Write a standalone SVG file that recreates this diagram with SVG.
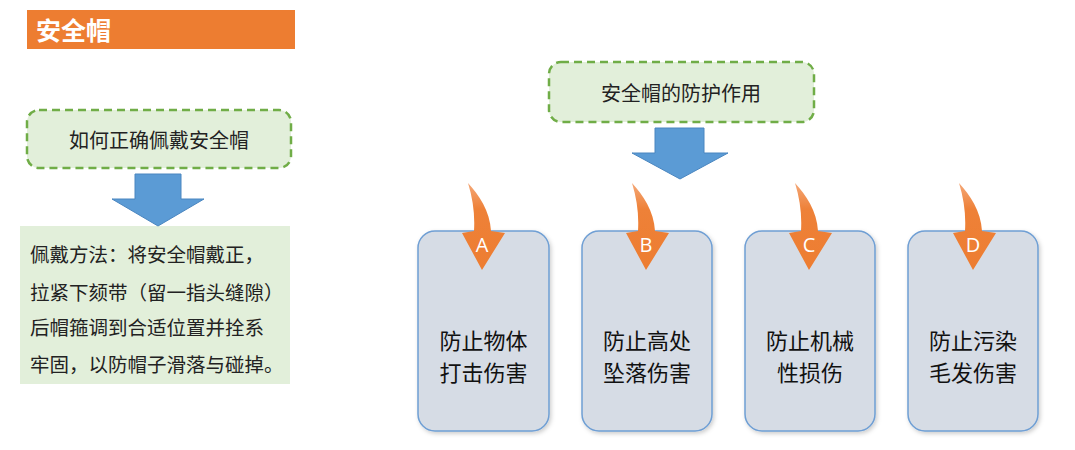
<svg xmlns="http://www.w3.org/2000/svg" width="1075" height="450" viewBox="0 0 1075 450">
<defs>
<style>
.cjk{font-family:"Noto Sans CJK SC","Noto Sans",sans-serif;}
.dash{fill:#E2EFDA;stroke:#70AD47;stroke-width:2.5;stroke-dasharray:8 5;}
.blk{fill:#5B9BD5;stroke:#4A86C0;stroke-width:1;}
.card{fill:#D6DCE5;stroke:#6F9FD4;stroke-width:1.5;}
.lbl{font-size:22px;fill:#111;text-anchor:middle;}
.cur{fill:url(#og);}
.let{font-family:"Open Sans","Liberation Sans",sans-serif;font-size:20px;fill:#fff;text-anchor:middle;}
</style>
<linearGradient id="og" x1="0" y1="0" x2="0" y2="1">
<stop offset="0" stop-color="#F4A878"/>
<stop offset="0.3" stop-color="#EE8138"/>
<stop offset="1" stop-color="#ED7D31"/>
</linearGradient>
<filter id="sh" x="-10%" y="-10%" width="130%" height="130%">
<feDropShadow dx="1.5" dy="2" stdDeviation="2" flood-color="#000" flood-opacity="0.2"/>
</filter>
<path id="carrow" d="M0,0 C11,12 22,28 23,48 L37,50 L14,87 L-6,50 L6,48 C7,32 5,16 0,0 Z"/>
</defs>

<g id="title">
<rect x="27" y="10" width="268" height="39" fill="#ED7D31"/>
<text class="cjk" x="36" y="39.5" font-size="25" font-weight="bold" fill="#fff">安全帽</text>
</g>

<g id="howto">
<rect class="dash" x="27" y="110" width="264" height="58" rx="12"/>
<text class="cjk" x="159" y="147.5" font-size="20" fill="#222" text-anchor="middle">如何正确佩戴安全帽</text>
</g>

<g id="method">
<rect x="20" y="226" width="270" height="158" fill="#E2EFDA"/>
<text class="cjk" x="30" y="262" font-size="19.5" fill="#222">佩戴方法：将安全帽戴正，</text>
<text class="cjk" x="30" y="300" font-size="19.5" fill="#222">拉紧下颏带（留一指头缝隙）</text>
<text class="cjk" x="30" y="335" font-size="19.5" fill="#222">后帽箍调到合适位置并拴系</text>
<text class="cjk" x="30" y="372" font-size="19.5" fill="#222">牢固，以防帽子滑落与碰掉。</text>
</g>

<g id="role">
<rect class="dash" x="549" y="62" width="265" height="60" rx="12"/>
<text class="cjk" x="681" y="100.5" font-size="20" fill="#222" text-anchor="middle">安全帽的防护作用</text>
</g>

<g id="cardA">
<rect class="card" x="418" y="231" width="131" height="200" rx="17" filter="url(#sh)"/>
<text class="cjk lbl" x="483.5" y="349">防止物体</text>
<text class="cjk lbl" x="483.5" y="381">打击伤害</text>
</g>
<g id="cardB">
<rect class="card" x="582" y="231" width="130" height="200" rx="17" filter="url(#sh)"/>
<text class="cjk lbl" x="647" y="349">防止高处</text>
<text class="cjk lbl" x="647" y="381">坠落伤害</text>
</g>
<g id="cardC">
<rect class="card" x="745" y="231" width="130" height="200" rx="17" filter="url(#sh)"/>
<text class="cjk lbl" x="810" y="349">防止机械</text>
<text class="cjk lbl" x="810" y="381">性损伤</text>
</g>
<g id="cardD">
<rect class="card" x="908" y="231" width="130" height="200" rx="17" filter="url(#sh)"/>
<text class="cjk lbl" x="973" y="349">防止污染</text>
<text class="cjk lbl" x="973" y="381">毛发伤害</text>
</g>

<g id="connectors">
<path class="blk" d="M135,174 L181,174 L181,199 L204,199 L158,226 L112,199 L135,199 Z"/>
<path class="blk" d="M655,128 L704,128 L704,153 L728,153 L680,179 L632,153 L655,153 Z"/>
<use href="#carrow" class="cur" x="468" y="183"/>
<use href="#carrow" class="cur" x="632" y="183"/>
<use href="#carrow" class="cur" x="795" y="183"/>
<use href="#carrow" class="cur" x="959" y="183"/>
<text class="let" x="482" y="252">A</text>
<text class="let" x="646" y="252">B</text>
<text class="let" x="809" y="252">C</text>
<text class="let" x="973" y="252">D</text>
</g>
</svg>
